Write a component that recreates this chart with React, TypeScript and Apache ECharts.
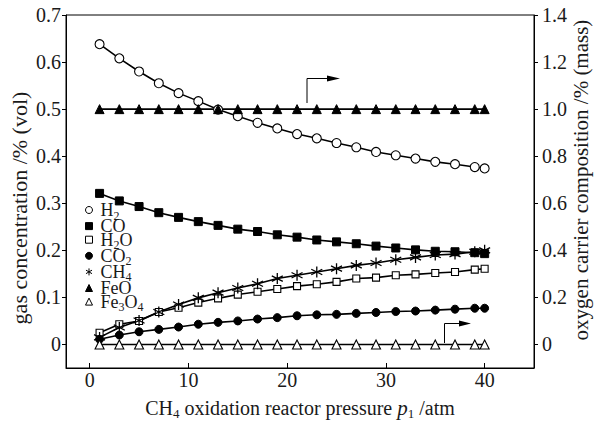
import React, { useEffect, useRef } from 'react';
import * as echarts from 'echarts';

const pressure = [1, 3, 5, 7, 9, 11, 13, 15, 17, 19, 21, 23, 25, 27, 29, 31, 33, 35, 37, 39, 40];
const h2 = [0.638, 0.608, 0.580, 0.555, 0.534, 0.517, 0.499, 0.485, 0.471, 0.459, 0.447, 0.438, 0.428, 0.419, 0.409, 0.402, 0.395, 0.388, 0.383, 0.377, 0.374];
const co = [0.321, 0.305, 0.293, 0.280, 0.270, 0.261, 0.253, 0.245, 0.240, 0.233, 0.228, 0.222, 0.218, 0.214, 0.209, 0.205, 0.201, 0.198, 0.197, 0.195, 0.193];
const h2o = [0.025, 0.043, 0.050, 0.069, 0.078, 0.089, 0.098, 0.106, 0.112, 0.118, 0.124, 0.128, 0.133, 0.140, 0.142, 0.147, 0.149, 0.152, 0.154, 0.159, 0.161];
const co2 = [0.011, 0.020, 0.027, 0.032, 0.037, 0.043, 0.047, 0.050, 0.054, 0.057, 0.061, 0.063, 0.064, 0.066, 0.068, 0.070, 0.071, 0.073, 0.075, 0.077, 0.077];
const ch4 = [0.015, 0.036, 0.051, 0.069, 0.085, 0.099, 0.110, 0.120, 0.129, 0.140, 0.147, 0.154, 0.161, 0.168, 0.173, 0.180, 0.185, 0.190, 0.192, 0.197, 0.200];
const feo = [1.0, 1.0, 1.0, 1.0, 1.0, 1.0, 1.0, 1.0, 1.0, 1.0, 1.0, 1.0, 1.0, 1.0, 1.0, 1.0, 1.0, 1.0, 1.0, 1.0, 1.0];
const fe3o4 = [0, 0, 0, 0, 0, 0, 0, 0, 0, 0, 0, 0, 0, 0, 0, 0, 0, 0, 0, 0, 0];

const xTicks = [0, 10, 20, 30, 40];
const leftTicks = [0, 0.1, 0.2, 0.3, 0.4, 0.5, 0.6, 0.7];
const rightTicks = [0, 0.2, 0.4, 0.6, 0.8, 1.0, 1.2, 1.4];

const seriesNames = ['H2', 'CO', 'H2O', 'CO2', 'CH4', 'FeO', 'Fe3O4'];
const legendRich: Record<string, string> = {
  H2: '{n|H}{s|2}',
  CO: '{n|CO}',
  H2O: '{n|H}{s|2}{n|O}',
  CO2: '{n|CO}{s|2}',
  CH4: '{n|CH}{s|4}',
  FeO: '{n|FeO}',
  Fe3O4: '{n|Fe}{s|3}{n|O}{s|4}',
};

const FONT = '"Liberation Serif", "Times New Roman", serif';
const TXT = '#1a1a1a';
const STAR = 'path://M0,-5L0,5M-4.33,-2.5L4.33,2.5M-4.33,2.5L4.33,-2.5';

export default function App() {
  const ref = useRef<HTMLDivElement>(null);
  useEffect(() => {
    if (!ref.current) return;
    const chart = echarts.init(ref.current, undefined, { renderer: 'svg' });
    const pts = (arr: number[]) => pressure.map((p, i) => [p, arr[i]]);
    const base = (name: string, arr: number[], yAxisIndex: number, symbol: string, size: number, filled: boolean) => ({
      name,
      type: 'line',
      data: pts(arr),
      yAxisIndex,
      symbol,
      symbolSize: size,
      showAllSymbol: true,
      lineStyle: { color: '#000', width: 1.6 },
      itemStyle: filled
        ? { color: '#000', borderColor: '#000', borderWidth: 1 }
        : { color: '#fff', borderColor: '#000', borderWidth: 1.1 },
      z: 3,
    });
    const legendIcons: Record<string, [string, boolean]> = {
      H2: ['circle', false],
      CO: ['rect', true],
      H2O: ['rect', false],
      CO2: ['circle', true],
      CH4: [STAR, true],
      FeO: ['triangle', true],
      Fe3O4: ['triangle', false],
    };
    chart.setOption({
      animation: false,
      backgroundColor: '#fff',
      grid: { left: 66, right: 60, top: 15, bottom: 54, show: true, borderColor: '#000', borderWidth: 1, backgroundColor: 'transparent' },
      legend: {
        orient: 'vertical',
        left: 80,
        top: 196,
        itemWidth: 7,
        itemHeight: 7,
        itemGap: -4.4,
        data: seriesNames.map((n) => ({
          name: n,
          icon: legendIcons[n][0],
          itemStyle: legendIcons[n][1]
            ? { color: '#000', borderColor: '#000', borderWidth: 1 }
            : { color: '#fff', borderColor: '#000', borderWidth: 1 },
        })),
        formatter: (name: string) => legendRich[name],
        textStyle: {
          padding: [0, 0, 0, 3],
          lineHeight: 15,
          rich: {
            n: { fontFamily: FONT, fontSize: 18, lineHeight: 15, verticalAlign: 'middle', color: TXT },
            s: { fontFamily: FONT, fontSize: 12, lineHeight: 2, verticalAlign: 'top', padding: [7, 0, 0, 0], color: TXT },
          },
        },
      },
      xAxis: {
        type: 'value',
        min: -2.4,
        max: 45,
        name: '{n|CH}{s|4}{n| oxidation reactor pressure }{i|p}{s|1}{n| /atm}',
        nameLocation: 'middle',
        nameGap: 29,
        nameTextStyle: {
          rich: {
            n: { fontFamily: FONT, fontSize: 20, lineHeight: 22, verticalAlign: 'middle', color: TXT },
            i: { fontFamily: FONT, fontSize: 21, fontStyle: 'italic', lineHeight: 22, verticalAlign: 'middle', color: TXT },
            s: { fontFamily: FONT, fontSize: 13, lineHeight: 2, verticalAlign: 'top', padding: [10, 0, 0, 0], color: TXT },
          },
        },
        axisLine: { onZero: false, lineStyle: { color: '#000', width: 1 } },
        axisTick: { inside: true, length: 5, customValues: xTicks, lineStyle: { color: '#000' } },
        axisLabel: { customValues: xTicks, fontFamily: FONT, fontSize: 20, color: TXT, margin: 2 },
        splitLine: { show: false },
      },
      yAxis: [
        {
          type: 'value',
          min: -0.05,
          max: 0.7,
          axisLine: { show: true, onZero: false, lineStyle: { color: '#000', width: 1 } },
          axisTick: { show: true, inside: false, length: 4, customValues: leftTicks, lineStyle: { color: '#000' } },
          axisLabel: {
            customValues: leftTicks,
            fontFamily: FONT,
            fontSize: 20,
            color: TXT,
            margin: 5,
            formatter: (v: number) => (Math.abs(v) < 1e-9 ? '0' : v.toFixed(1)),
          },
          splitLine: { show: false },
        },
        {
          type: 'value',
          min: -0.1,
          max: 1.4,
          position: 'right',
          axisLine: { show: true, onZero: false, lineStyle: { color: '#000', width: 1 } },
          axisTick: { show: true, inside: false, length: 4, customValues: rightTicks, lineStyle: { color: '#000' } },
          axisLabel: {
            customValues: rightTicks,
            fontFamily: FONT,
            fontSize: 20,
            color: TXT,
            margin: 8,
            formatter: (v: number) => (Math.abs(v) < 1e-9 ? '0' : v.toFixed(1)),
          },
          splitLine: { show: false },
        },
      ],
      graphic: [
        {
          type: 'text',
          x: 19,
          y: 208,
          rotation: Math.PI / 2,
          style: { text: 'gas concentration /% (vol)', font: `22px ${FONT}`, fill: TXT, align: 'center', verticalAlign: 'middle' },
        },
        {
          type: 'text',
          x: 581,
          y: 180,
          rotation: Math.PI / 2,
          style: { text: 'oxygen carrier composition /% (mass)', font: `21px ${FONT}`, fill: TXT, align: 'center', verticalAlign: 'middle' },
        },
        { type: 'polyline', shape: { points: [[307, 103], [307, 78.5], [330, 78.5]] }, style: { stroke: '#000', lineWidth: 1, fill: null } },
        { type: 'polygon', shape: { points: [[327, 75.5], [340, 78.5], [327, 81.5]] }, style: { fill: '#000' } },
        { type: 'polyline', shape: { points: [[444.5, 343], [444.5, 323.5], [461, 323.5]] }, style: { stroke: '#000', lineWidth: 1, fill: null } },
        { type: 'polygon', shape: { points: [[459, 320.5], [471, 323.5], [459, 326.5]] }, style: { fill: '#000' } },
      ],
      series: [
        base('H2', h2, 0, 'circle', 9, false),
        base('CO', co, 0, 'rect', 8, true),
        base('H2O', h2o, 0, 'rect', 7, false),
        base('CO2', co2, 0, 'circle', 8, true),
        { ...base('CH4', ch4, 0, STAR, 11, true), itemStyle: { color: '#000', borderColor: '#000', borderWidth: 1.3 } },
        base('FeO', feo, 1, 'triangle', 9, true),
        base('Fe3O4', fe3o4, 1, 'triangle', 9, false),
      ],
    });
    return () => chart.dispose();
  }, []);
  return <div ref={ref} style={{ position: 'fixed', left: 0, top: 0, width: 594, height: 425, background: '#fff' }} />;
}
